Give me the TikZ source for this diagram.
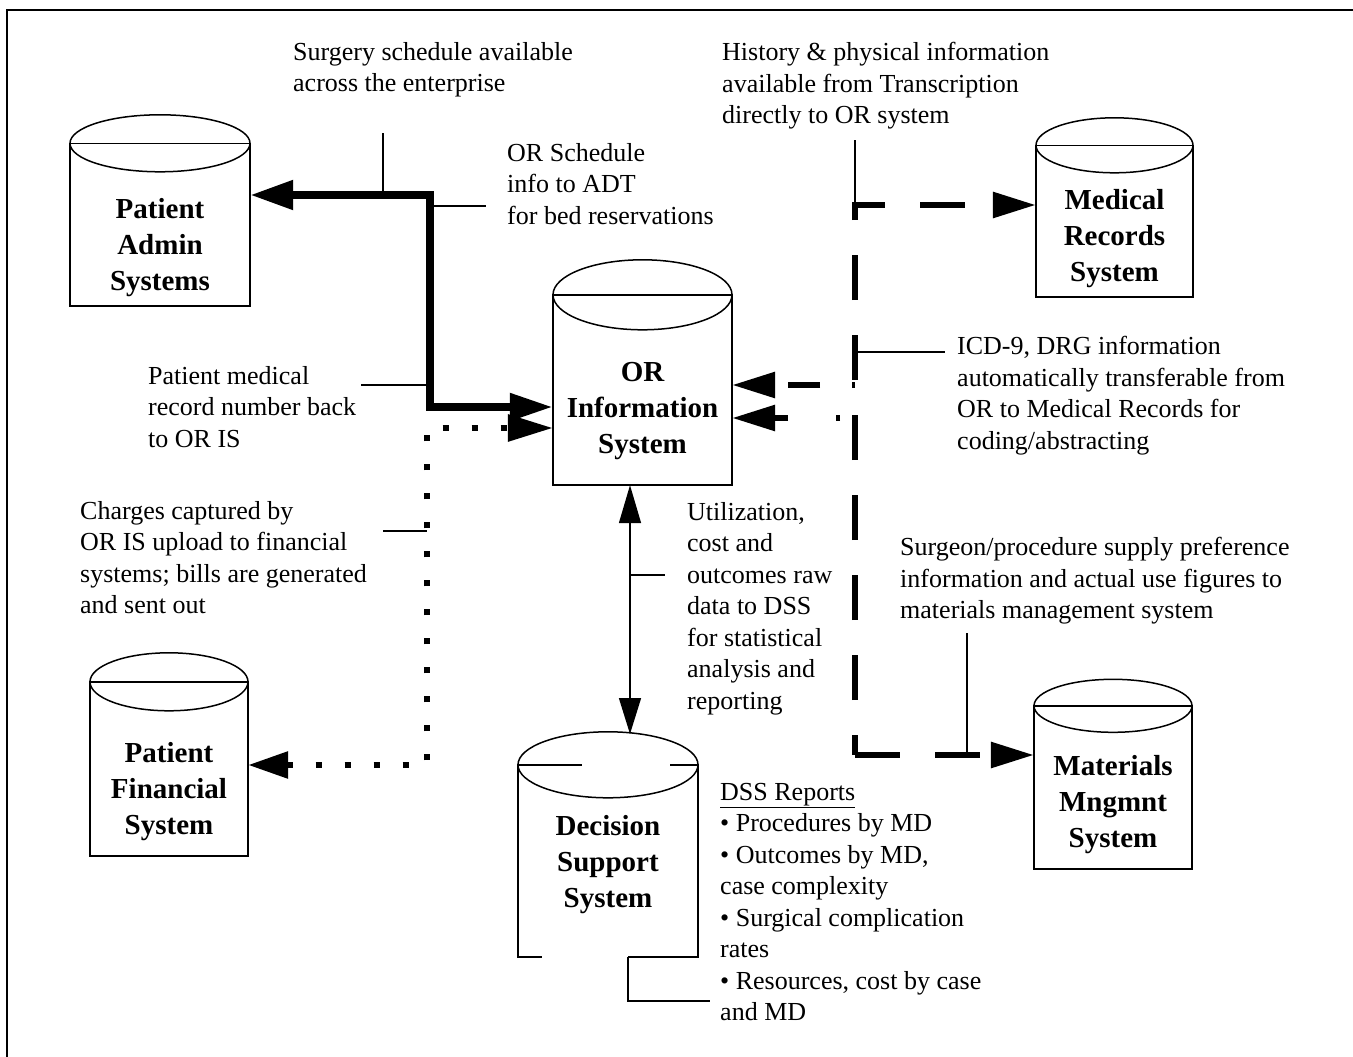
\documentclass[tikz,border=0pt]{standalone}
\usepackage{fontspec}
\setmainfont{Liberation Serif}
\usetikzlibrary{arrows.meta}
\tikzstyle{drum}=[inner sep=0pt,align=center,
                  font=\fontsize{29}{36}\selectfont\bfseries]
\tikzstyle{note}=[anchor=north west,inner sep=0pt,align=left,
                  font=\fontsize{26}{31.5}\selectfont]
\tikzstyle{drumline}=[line width=1.5pt]
\tikzstyle{callout}=[line width=1.5pt]
\tikzstyle{solidflow}=[line width=8pt,
                  {Triangle[length=43pt,width=28pt]}-{Triangle[length=43pt,width=26pt]}]
\tikzstyle{dotflow}=[line width=6pt,dash pattern=on 6pt off 23pt,
                  {Triangle[length=40pt,width=26pt]}-{Triangle[length=45pt,width=26pt]}]
\tikzstyle{dashflow}=[line width=6pt,dash pattern=on 45pt off 35pt,
                  -{Triangle[length=43pt,width=25pt]}]
\tikzstyle{thinflow}=[line width=1.5pt,
                  {Triangle[length=38pt,width=22pt]}-{Triangle[length=36pt,width=22pt]}]

\begin{document}
\begin{tikzpicture}[x=1pt,y=-1pt]
    \useasboundingbox (0,0) rectangle (1353,1057);
    \draw[line width=1.5pt] (7,1057) -- (7,10) -- (1353,10);

    % the six systems
    \node[drum,minimum width=180pt,minimum height=116pt] (padm) at (160,248) {Patient\\Admin\\Systems};
    \node[drum,minimum width=179pt,minimum height=147pt] (orsys) at (642.5,411.5) {OR\\Information\\System};
    \node[drum,minimum width=157pt,minimum height=116pt] (medrec) at (1114.5,239) {Medical\\Records\\System};
    \node[drum,minimum width=158pt,minimum height=129pt] (pfin) at (169,791.5) {Patient\\Financial\\System};
    \node[drum,minimum width=180pt,minimum height=185pt] (dss) at (608,864.5) {Decision\\Support\\System};
    \node[drum,minimum width=158pt,minimum height=128pt] (mats) at (1113,805) {Materials\\Mngmnt\\System};

    % drum outlines: name / x radius / y radius / lift of the rim
    \foreach \n/\rx/\ry/\up in {padm/90/28.5/46.5,orsys/89.5/35/43,medrec/78.5/27.5/35.5,
                                pfin/79/29/45,mats/79/26.5/35} {
      \draw[drumline] ([yshift=\up pt]\n.north west) -- (\n.south west) -- (\n.south east)
                      -- ([yshift=\up pt]\n.north east) -- cycle;
      \draw[drumline] ([yshift=\up pt]\n.north) ellipse [x radius=\rx pt,y radius=\ry pt];
    }
    % DSS drum has broken lines
    \draw[drumline] ([yshift=7pt,xshift=64pt]dss.north west) -- ([yshift=7pt]dss.north west)
                    -- (dss.south west) -- ([xshift=24pt]dss.south west);
    \draw[drumline] ([xshift=-70pt]dss.south east) -- (dss.south east)
                    -- ([yshift=7pt]dss.north east) -- ([yshift=7pt,xshift=-28pt]dss.north east);
    \draw[drumline] ([yshift=7pt]dss.north) ellipse [x radius=90pt,y radius=33pt];

    % notes
    \node[note] (surgnote) at (293,42) {Surgery schedule available\\across the enterprise};
    \node[note] (histnote) at (722,42) {History \& physical information\\available from Transcription\\directly to OR system};
    \node[note] (schednote) at (507,143) {OR Schedule\\info to ADT\\for bed reservations};
    \node[note] (mrnnote) at (148,366) {Patient medical\\record number back\\to OR IS};
    \node[note] (icdnote) at (957,336) {ICD-9, DRG information\\automatically transferable from\\OR to Medical Records for\\coding/abstracting};
    \node[note] (chargenote) at (80,501) {Charges captured by\\OR IS upload to financial\\systems; bills are generated\\and sent out};
    \node[note] (utilnote) at (687,502) {Utilization,\\cost and\\outcomes raw\\data to DSS\\for statistical\\analysis and\\reporting};
    \node[note] (supplynote) at (900,537) {Surgeon/procedure supply preference\\information and actual use figures to\\materials management system};
    \node[note] (dssnote) at (720,783) {\underline{DSS Reports}\\• Procedures by MD\\• Outcomes by MD,\\case complexity\\• Surgical complication\\rates\\• Resources, cost by case\\and MD};

    % flows
    \coordinate (sj1) at (430,195);
    \coordinate (sj2) at (430,407);
    \draw[solidflow] (padm.east |- sj1) -- (sj1) -- (sj2) -- (orsys.west |- sj2);

    \coordinate (oj1) at (427,428);
    \coordinate (oj2) at (427,765);
    \draw[dotflow] (pfin.east |- oj2) -- (oj2) -- (oj1) -- (orsys.west |- oj1);

    \coordinate (dj1) at (855,205);
    \coordinate (dj2) at (855,755);
    \coordinate (dj3) at (855,385);
    \coordinate (dj4) at (855,418);
    \draw[dashflow,dash phase=25pt] (dj2) -- (dj1) -- (medrec.west |- dj1);
    \draw[dashflow] (dj2) -- (mats.west |- dj2);
    \draw[dashflow,dash pattern=on 3pt off 32pt on 32pt off 40pt] (dj3) -- (orsys.east |- dj3);
    \draw[dashflow,dash pattern=on 0pt off 15pt on 4pt off 48pt on 30pt] (dj4) -- (orsys.east |- dj4);

    \coordinate (vt) at (630,734);
    \draw[thinflow] (orsys.south -| vt) -- (vt);

    % callouts
    \coordinate (sc) at (383,133);
    \coordinate (oc) at (486,206);
    \coordinate (mc) at (361,385);
    \coordinate (cc) at (383,531);
    \coordinate (hc) at (855,140);
    \coordinate (ic) at (945,352);
    \coordinate (pc) at (967,633);
    \coordinate (uc) at (665,575);
    \coordinate (dssfoot) at (628,957);
    \coordinate (dsstail) at (710,1001);
    \draw[callout] (sc) -- (sc |- sj1);
    \draw[callout] (sj1 |- oc) -- (oc);
    \draw[callout] (mc) -- (mc -| sj1);
    \draw[callout] (cc) -- (cc -| oj1);
    \draw[callout] (hc) -- (dj1);
    \draw[callout] (ic -| dj1) -- (ic);
    \draw[callout] (pc) -- (pc |- dj2);
    \draw[callout] (uc -| vt) -- (uc);
    \draw[callout] (dssfoot) |- (dsstail);
\end{tikzpicture}
\end{document}
